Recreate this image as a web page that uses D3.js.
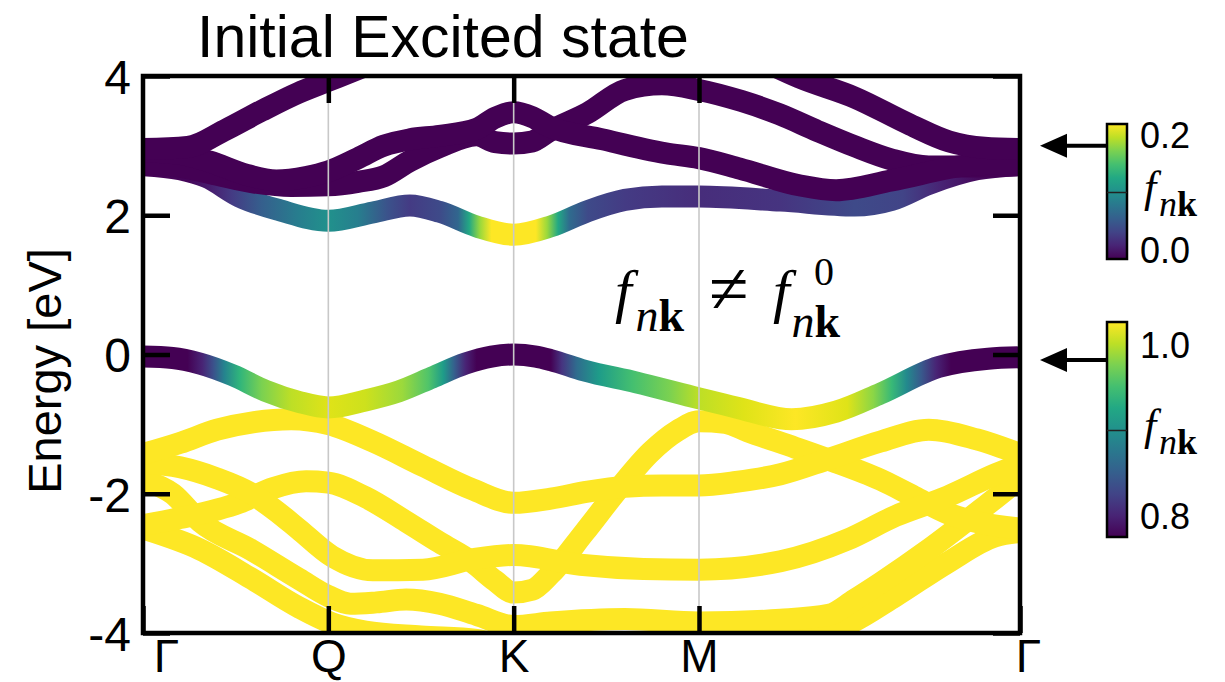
<!DOCTYPE html>
<html>
<head>
<meta charset="utf-8">
<script src="https://cdn.jsdelivr.net/npm/d3@7"></script>
<style>
  html, body { margin: 0; padding: 0; background: #fff; overflow: hidden; }
  svg { display: block; }
  .sans { font-family: "Liberation Sans", Arial, Helvetica, sans-serif; }
  .serif { font-family: "Liberation Serif", "Times New Roman", "DejaVu Serif", serif; }
</style>
</head>
<body>
<svg id="chart" width="1225" height="682"></svg>
<script>
/**
 * Data: high-symmetry path, tick labels and bands.
 * k is the path coordinate in units of |Gamma-K|, energies in eV.
 */
const kPoints = [0, 0.5, 1, 1.5, 2.366];
const kLabels = ['Γ', 'Q', 'K', 'M', 'Γ'];
const energyTicks = [-4, -2, 0, 2, 4];
const energyLabels = ['-4', '-2', '0', '2', '4'];

// Lowest conduction band and its occupation f_nk
const cb1 = [[0, 2.72], [0.1, 2.66], [0.17, 2.55], [0.26, 2.27], [0.37, 2.07], [0.5, 1.92], [0.62, 2.04],
    [0.72, 2.14], [0.8, 2.05], [0.9, 1.84], [1.0, 1.72], [1.1, 1.84], [1.2, 2.06], [1.3, 2.22], [1.4, 2.27],
    [1.5, 2.27], [1.72, 2.21], [1.92, 2.14], [2.02, 2.22], [2.12, 2.45], [2.25, 2.66], [2.366, 2.72]];
const cb1Occ = [[0, 0], [0.12, 0.003], [0.18, 0.015], [0.24, 0.035], [0.32, 0.06], [0.42, 0.085], [0.5, 0.1],
    [0.58, 0.085], [0.66, 0.05], [0.72, 0.035], [0.8, 0.045], [0.85, 0.065], [0.88, 0.12], [0.91, 0.17],
    [0.94, 0.2], [1.06, 0.2], [1.09, 0.17], [1.12, 0.12], [1.15, 0.07], [1.2, 0.045], [1.3, 0.035],
    [1.5, 0.025], [1.72, 0.03], [1.92, 0.045], [2.05, 0.04], [2.15, 0.02], [2.25, 0.005], [2.366, 0]];

// Higher conduction bands (empty)
const cb2 = [[0, 2.95], [0.12, 2.98], [0.22, 3.22], [0.32, 3.5], [0.42, 3.76], [0.5, 3.93], [0.58, 4.1], [0.65, 4.25]];
const cb3 = [[0, 2.92], [0.1, 2.88], [0.18, 2.77], [0.28, 2.58], [0.36, 2.5], [0.44, 2.55], [0.5, 2.63],
    [0.58, 2.82], [0.65, 3.0], [0.72, 3.09], [0.8, 3.14], [0.9, 3.24], [0.95, 3.4], [1.0, 3.48], [1.05, 3.41],
    [1.094, 3.28], [1.24, 3.09], [1.41, 2.89], [1.5, 2.82], [1.61, 2.67], [1.77, 2.43], [1.87, 2.36],
    [2.02, 2.5], [2.23, 2.72], [2.366, 2.75]];
const cb4 = [[0, 2.75], [0.1, 2.7], [0.2, 2.58], [0.3, 2.47], [0.4, 2.42], [0.5, 2.43], [0.58, 2.48],
    [0.65, 2.56], [0.72, 2.78], [0.8, 2.98], [0.9, 3.15], [0.95, 3.05], [1.0, 3.03], [1.05, 3.06],
    [1.094, 3.2], [1.2, 3.47], [1.3, 3.8], [1.4, 3.88], [1.5, 3.8], [1.615, 3.64], [1.717, 3.45], [1.82, 3.21],
    [1.92, 2.99], [2.02, 2.8], [2.12, 2.7], [2.25, 2.7], [2.366, 2.72]];
const cb5 = [[1.66, 4.25], [1.77, 3.98], [1.92, 3.69], [2.07, 3.3], [2.175, 3.06], [2.27, 2.97], [2.366, 2.95]];

// Highest valence band and its occupation f_nk
const vb1 = [[0, -0.03], [0.08, -0.05], [0.154, -0.13], [0.243, -0.3], [0.33, -0.52], [0.42, -0.68],
    [0.5, -0.76], [0.6, -0.66], [0.69, -0.53], [0.78, -0.33], [0.87, -0.13], [0.94, -0.03], [1.0, 0],
    [1.06, -0.03], [1.1, -0.08], [1.19, -0.23], [1.33, -0.4], [1.5, -0.63], [1.6, -0.76], [1.75, -0.93],
    [1.87, -0.82], [1.99, -0.56], [2.146, -0.18], [2.28, -0.06], [2.366, -0.04]];
const vb1Occ = [[0, 0.8], [0.12, 0.8], [0.16, 0.82], [0.19, 0.85], [0.22, 0.89], [0.26, 0.93], [0.32, 0.96],
    [0.4, 0.98], [0.5, 0.99], [0.6, 0.985], [0.7, 0.97], [0.77, 0.945], [0.81, 0.91], [0.84, 0.86],
    [0.87, 0.82], [0.9, 0.8], [1.1, 0.8], [1.13, 0.83], [1.17, 0.87], [1.23, 0.91], [1.32, 0.94],
    [1.42, 0.96], [1.5, 0.98], [1.62, 0.99], [1.76, 1.0], [1.9, 0.99], [1.97, 0.965], [2.02, 0.935],
    [2.06, 0.895], [2.1, 0.855], [2.14, 0.82], [2.18, 0.8], [2.366, 0.8]];

// Lower valence bands (full)
const vb2 = [[0, -1.43], [0.1, -1.27], [0.2, -1.08], [0.3, -0.97], [0.4, -0.93], [0.5, -1.0], [0.62, -1.25],
    [0.755, -1.6], [0.89, -1.94], [1.0, -2.13], [1.1, -2.07], [1.2, -1.97], [1.3, -1.9], [1.4, -1.88],
    [1.5, -1.88], [1.6, -1.83], [1.72, -1.72], [1.85, -1.5], [1.99, -1.25], [2.12, -1.08], [2.25, -1.22],
    [2.366, -1.43]];
const vb3 = [[0, -1.55], [0.1, -1.62], [0.2, -1.78], [0.29, -1.99], [0.36, -2.25], [0.42, -2.51], [0.51, -2.9],
    [0.62, -3.1], [0.755, -3.09], [0.89, -2.94], [1.0, -2.88], [1.18, -3.02], [1.35, -3.08], [1.5, -3.09],
    [1.72, -2.97], [1.9, -2.66], [2.03, -2.32], [2.17, -2.04], [2.3, -1.72], [2.366, -1.58]];
const vb4 = [[0, -2.45], [0.1, -2.35], [0.26, -2.13], [0.35, -1.92], [0.44, -1.82], [0.5, -1.84], [0.6, -2.05],
    [0.71, -2.4], [0.8, -2.7], [0.89, -2.99], [0.95, -3.25], [1.0, -3.42], [1.05, -3.38], [1.1, -3.15],
    [1.19, -2.56], [1.28, -1.95], [1.37, -1.4], [1.44, -1.1], [1.5, -0.96], [1.57, -0.98], [1.63, -1.1],
    [1.76, -1.34], [1.85, -1.51], [1.99, -1.8], [2.08, -2.04], [2.17, -2.28], [2.26, -2.42], [2.366, -2.5]];
const vb5 = [[0, -1.8], [0.08, -2.0], [0.154, -2.4], [0.29, -2.8], [0.42, -3.22], [0.5, -3.47], [0.56, -3.58],
    [0.63, -3.56], [0.71, -3.52], [0.8, -3.58], [0.9, -3.74], [1.0, -3.9], [1.1, -3.85], [1.3, -3.8],
    [1.5, -3.85], [1.72, -3.81], [1.85, -3.74], [1.92, -3.52], [1.99, -3.28], [2.12, -2.8], [2.26, -2.23],
    [2.366, -1.78]];
const vb6 = [[0, -2.5], [0.154, -2.8], [0.29, -3.21], [0.42, -3.63], [0.51, -3.86], [0.6, -3.98], [0.75, -4.05],
    [0.9, -4.1], [1.0, -4.2], [1.3, -4.2], [1.6, -4.15], [1.8, -4.05], [1.9, -3.88], [2.03, -3.47],
    [2.17, -2.99], [2.3, -2.61], [2.366, -2.55]];

// Colour bars: tick values, and the energies the arrows point at
const cbTicks = [0.0, 0.2];
const vbTicks = [0.8, 1.0];
const arrowEnergies = [3.0, -0.08];

/**
 * Visual configs.
 */
const plot = { left: 143, right: 1020, top: 76, bottom: 633 };
const bandWidth = 22,
    axisWidth = 4.5,
    tickLength = 27;

const svg = d3.select('#chart');
const defs = svg.append('defs');

const kMax = d3.max(kPoints);
const x = d3.scaleLinear().domain([0, kMax]).range([plot.left, plot.right]);
const y = d3.scaleLinear().domain([-4, 4]).range([plot.bottom, plot.top]);

const line = d3.line()
    .x(d => x(d[0]))
    .y(d => y(d[1]))
    .curve(d3.curveMonotoneX);

const empty = d3.interpolateViridis(0),
    full = d3.interpolateViridis(1);

/**
 * Horizontal gradient following the occupation along k.
 */
function bandGradient(id, occ, fmin, fmax) {
    const norm = d3.scaleLinear().domain([fmin, fmax]).clamp(true);
    defs.append('linearGradient')
        .attr('id', id)
        .attr('gradientUnits', 'userSpaceOnUse')
        .attr('x1', x(0)).attr('x2', x(kMax))
        .attr('y1', 0).attr('y2', 0)
        .selectAll('stop')
        .data(occ)
        .join('stop')
        .attr('offset', d => d[0] / kMax)
        .attr('stop-color', d => d3.interpolateViridis(norm(d[1])));
}

bandGradient('cb1-grad', cb1Occ, 0, 0.2);
bandGradient('vb1-grad', vb1Occ, 0.8, 1.0);

defs.append('clipPath').attr('id', 'plot-clip')
    .append('rect')
    .attr('x', plot.left).attr('y', plot.top)
    .attr('width', plot.right - plot.left).attr('height', plot.bottom - plot.top);

/**
 * Bands.
 */
const bands = svg.append('g')
    .attr('clip-path', 'url(#plot-clip)')
    .attr('fill', 'none')
    .attr('stroke-width', bandWidth)
    .attr('stroke-linecap', 'round')
    .attr('stroke-linejoin', 'round');

bands.append('path').attr('d', line(cb1)).attr('stroke', 'url(#cb1-grad)');
bands.selectAll('.cb').data([cb4, cb3, cb2, cb5]).join('path')
    .attr('class', 'cb').attr('d', line).attr('stroke', empty);
bands.selectAll('.vb').data([vb6, vb5, vb4, vb3, vb2]).join('path')
    .attr('class', 'vb').attr('d', line).attr('stroke', full);
bands.append('path').attr('d', line(vb1)).attr('stroke', 'url(#vb1-grad)');

// Thin guides at the inner high-symmetry points
svg.append('g').selectAll('line')
    .data(kPoints.slice(1, -1))
    .join('line')
    .attr('x1', d => x(d)).attr('x2', d => x(d))
    .attr('y1', plot.top).attr('y2', plot.bottom)
    .attr('stroke', '#c8c8c8')
    .attr('stroke-width', 1.6);

/**
 * Axes.
 */
function styleAxis(g, size) {
    g.select('.domain').remove();
    g.selectAll('.tick line').attr('stroke', '#000').attr('stroke-width', axisWidth);
    g.selectAll('.tick text')
        .attr('class', 'sans')
        .attr('fill', '#000')
        .attr('font-size', size || 48);
}

svg.append('g')
    .attr('transform', `translate(${plot.left},0)`)
    .call(d3.axisLeft(y).tickValues(energyTicks)
        .tickFormat((d, i) => energyLabels[i])
        .tickSize(-tickLength).tickPadding(12))
    .call(styleAxis)
    .call(g => g.selectAll('.tick text').attr('dy', '0.36em'));

svg.append('g')
    .attr('transform', `translate(${plot.right},0)`)
    .call(d3.axisRight(y).tickValues(energyTicks).tickFormat('').tickSize(-tickLength))
    .call(styleAxis);

svg.append('g')
    .attr('transform', `translate(0,${plot.top})`)
    .call(d3.axisTop(x).tickValues(kPoints.slice(1, -1)).tickFormat('').tickSize(-tickLength))
    .call(styleAxis);

svg.append('g')
    .attr('transform', `translate(0,${plot.bottom})`)
    .call(d3.axisBottom(x).tickValues(kPoints)
        .tickFormat((d, i) => kLabels[i])
        .tickSize(-tickLength).tickPadding(6))
    .call(styleAxis, 46)
    .call(g => g.selectAll('.tick text')
        .attr('dx', (d, i) => i === 0 ? 23 : (i === kPoints.length - 1 ? 8 : 0)));

svg.append('rect')
    .attr('x', plot.left).attr('y', plot.top)
    .attr('width', plot.right - plot.left).attr('height', plot.bottom - plot.top)
    .attr('fill', 'none')
    .attr('stroke', '#000')
    .attr('stroke-width', axisWidth);

/**
 * Titles.
 */
svg.append('text')
    .attr('class', 'sans')
    .attr('x', 197).attr('y', 57)
    .attr('font-size', 59)
    .text('Initial Excited state');

svg.append('text')
    .attr('class', 'sans')
    .attr('transform', 'translate(61,371) rotate(-90)')
    .attr('text-anchor', 'middle')
    .attr('font-size', 47)
    .text('Energy [eV]');

/**
 * Math labels built from positioned tspans.
 */
function mathLabel(x0, y0, parts) {
    const t = svg.append('text').attr('class', 'serif').attr('fill', '#000');
    parts.forEach(p => {
        t.append('tspan')
            .attr('x', x0 + p.dx).attr('y', y0 + p.dy)
            .attr('font-size', p.size)
            .attr('font-style', p.italic ? 'italic' : 'normal')
            .attr('font-weight', p.bold ? 'bold' : 'normal')
            .text(p.t);
    });
}

function fnkParts(size, sub, dx) {
    return [
        { t: 'f', dx: dx, dy: 0, size: size, italic: true },
        { t: 'n', dx: dx + size * 0.34, dy: size * 0.33, size: sub, italic: true },
        { t: 'k', dx: dx + size * 0.34 + sub * 0.5, dy: size * 0.33, size: sub, bold: true }
    ];
}

// f_nk != f^0_nk
mathLabel(615, 311, fnkParts(60, 46, 0)
    .concat([{ t: '≠', dx: 94, dy: 2, size: 72 }])
    .concat(fnkParts(60, 46, 158).map(p => p.t === 'f' ? p : Object.assign({}, p, { dy: 26, dx: p.dx - 2 })))
    .concat([{ t: '0', dx: 199, dy: -26, size: 40 }]));

/**
 * Colour bars.
 */
const barX = 1107, barW = 20;
const bars = [
    { ticks: cbTicks, top: 124, bottom: 259, scale: d3.scaleLinear().domain(cbTicks).range([250, 135]) },
    { ticks: vbTicks, top: 322, bottom: 537, scale: d3.scaleLinear().domain(vbTicks).range([516, 345]) }
];

const vgrad = defs.append('linearGradient').attr('id', 'viridis-v')
    .attr('x1', 0).attr('y1', 1).attr('x2', 0).attr('y2', 0);
vgrad.selectAll('stop').data(d3.range(0, 1.001, 0.1)).join('stop')
    .attr('offset', d => d)
    .attr('stop-color', d => d3.interpolateViridis(d));

bars.forEach((b, i) => {
    const g = svg.append('g');
    g.append('rect')
        .attr('x', barX).attr('y', b.top)
        .attr('width', barW).attr('height', b.bottom - b.top)
        .attr('fill', 'url(#viridis-v)')
        .attr('stroke', '#000').attr('stroke-width', 2.5);

    const mid = d3.mean(b.ticks);
    g.append('line')
        .attr('x1', barX).attr('x2', barX + barW)
        .attr('y1', b.scale(mid)).attr('y2', b.scale(mid))
        .attr('stroke', '#222').attr('stroke-width', 1.5);

    g.selectAll('text.num').data(b.ticks).join('text')
        .attr('class', 'sans num')
        .attr('x', barX + barW + 13)
        .attr('y', d => b.scale(d))
        .attr('dy', '0.36em')
        .attr('font-size', 36)
        .text(d => d.toFixed(1));

    mathLabel(barX + barW + 17, b.scale(mid) + 9, fnkParts(44, 36, 0));

    // Arrow pointing to the band edge it describes
    const ya = y(arrowEnergies[i]);
    g.append('line')
        .attr('x1', barX).attr('x2', 1060)
        .attr('y1', ya).attr('y2', ya)
        .attr('stroke', '#000').attr('stroke-width', 4);
    g.append('path')
        .attr('d', `M1040,${ya}L1067,${ya - 12}L1067,${ya + 12}Z`)
        .attr('fill', '#000');
});
</script>
</body>
</html>
